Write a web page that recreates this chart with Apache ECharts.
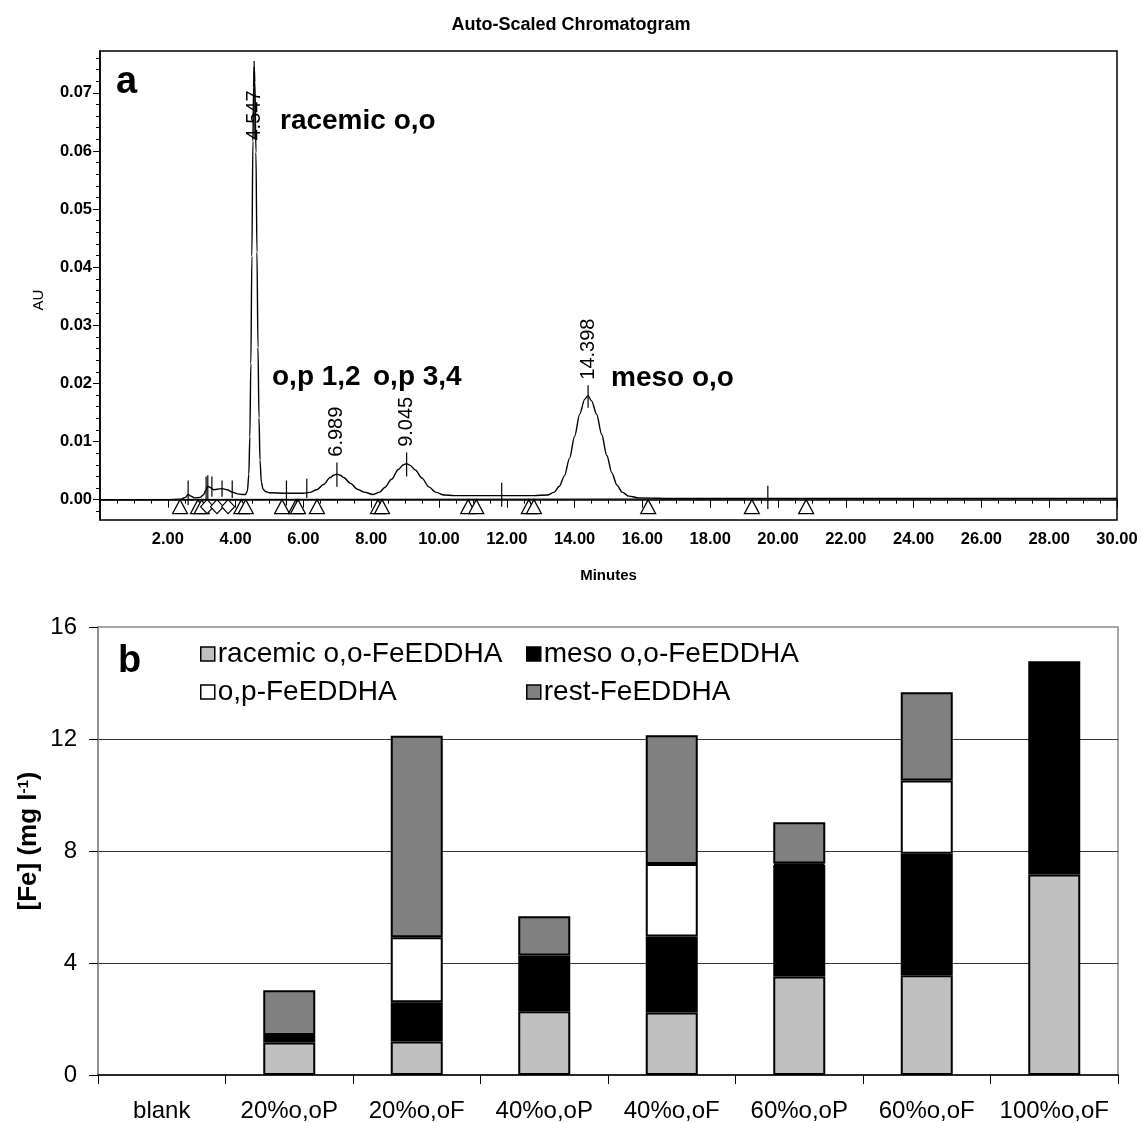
<!DOCTYPE html>
<html>
<head>
<meta charset="utf-8">
<script src="https://cdn.jsdelivr.net/npm/echarts@6/dist/echarts.min.js"></script>
<style>
  html, body { margin: 0; padding: 0; background: #fff; }
  #chart { width: 1141px; height: 1123px; }
</style>
</head>
<body>
<div id="chart"></div>
<script>
// ---- Panel a: HPLC chromatogram ----
// Trace: retention time (min) and absorbance (AU)
const retentionMin = [
  0.00, 1.00, 2.00, 2.40, 2.52, 2.60, 2.68, 2.80, 2.95, 3.05, 3.12, 3.18, 3.25, 3.35, 3.45,
  3.60, 3.75, 3.90, 4.05, 4.20, 4.29, 4.35, 4.39, 4.42, 4.45, 4.48, 4.51, 4.53, 4.547,
  4.57, 4.60, 4.63, 4.66, 4.69, 4.72, 4.76, 4.81, 4.88, 5.00, 5.50, 6.00, 6.19, 6.39,
  6.59, 6.79, 6.89, 6.989, 7.09, 7.19, 7.39, 7.59, 7.79, 8.05, 8.25, 8.40, 8.60, 8.80,
  8.95, 9.045, 9.15, 9.30, 9.50, 9.70, 9.90, 10.15, 10.45, 11.00, 12.00, 12.80, 13.20,
  13.40, 13.55, 13.70, 13.85, 14.00, 14.15, 14.30, 14.398, 14.50, 14.65, 14.80, 14.95,
  15.10, 15.25, 15.40, 15.60, 15.90, 17.00, 20.00, 25.00, 30.00
];
const absorbanceAU = [
  0.0000, 0.0000, 0.0000, 0.0001, 0.0004, 0.0009, 0.0006, 0.0003, 0.0004, 0.0008, 0.0016, 0.0023, 0.0021, 0.0017, 0.0018,
  0.0019, 0.0017, 0.0013, 0.0010, 0.0009, 0.0009, 0.0015, 0.0044, 0.0108, 0.0234, 0.0419, 0.0617, 0.0710, 0.0745,
  0.0719, 0.0598, 0.0426, 0.0262, 0.0141, 0.0068, 0.0030, 0.0018, 0.0014, 0.0012, 0.0011, 0.0011, 0.00125, 0.0017,
  0.0026, 0.0038, 0.0042, 0.0044, 0.0042, 0.0038, 0.0028, 0.0018, 0.0013, 0.0009, 0.0013, 0.0021, 0.0035, 0.0052,
  0.0060, 0.0062, 0.0059, 0.0051, 0.0037, 0.0022, 0.0013, 0.0008, 0.0007, 0.0007, 0.0007, 0.0007, 0.0008,
  0.0013, 0.0023, 0.0041, 0.0071, 0.0109, 0.0147, 0.0173, 0.0179, 0.0170, 0.0147, 0.0112, 0.0076,
  0.0046, 0.0025, 0.0013, 0.0006, 0.0003, 0.0002, 0.0002, 0.0002, 0.0002
];
// Integration baseline
const baselineMin = [0, 30];
const baselineAU = [0.0000, 0.0002];
// Labelled peak apexes and the height of each apex label
const peakApexMin = [4.547, 6.989, 9.045, 14.398];
const peakLabelAU = [0.0661, 0.0117, 0.0134, 0.0259];
// Peak start / apex / end tick marks: time, lower and upper end (AU)
const markMin    = [2.60, 3.13, 3.18, 3.30, 3.60, 3.90, 4.547, 5.50, 6.10, 6.989, 9.045, 11.85, 14.398, 19.70];
const markLowAU  = [-0.0009, -0.0005, -0.0003, 0.0005, 0.0005, 0.0003, 0.0620, -0.0010, 0.0003, 0.0022, 0.0040, -0.0012, 0.0158, -0.0016];
const markHighAU = [0.0033, 0.0040, 0.0042, 0.0040, 0.0033, 0.0033, 0.0755, 0.0033, 0.0036, 0.0064, 0.0081, 0.0029, 0.0197, 0.0024];
// Baseline event symbols
const triangleMin = [2.36, 2.89, 3.00, 4.17, 4.30, 5.37, 5.78, 5.84, 6.40, 8.20, 8.32, 10.86, 11.10, 12.65, 12.80, 16.17, 19.23, 20.83];
const diamondMin = [3.16, 3.45, 3.78];
const eventSymbolAU = -0.0012;
// Axis ticks
const auMajorTicks = [0, 0.01, 0.02, 0.03, 0.04, 0.05, 0.06, 0.07];
const auMinorTicks = [];
for (let k = -1; k <= 38; k++) { if (k % 5 !== 0) auMinorTicks.push(+(k * 0.002).toFixed(3)); }

// ---- Panel b: Fe in solution per isomer ----
const sampleNames = ['blank', '20%o,oP', '20%o,oF', '40%o,oP', '40%o,oF', '60%o,oP', '60%o,oF', '100%o,oF'];
const racemicFe    = [0, 1.16, 1.20, 2.28, 2.23, 3.52, 3.56, 7.16];
const mesoFe       = [0, 0.27, 1.40, 1.99, 2.72, 3.98, 4.34, 7.62];
const orthoParaFe  = [0, 0.00, 2.32, 0.00, 2.59, 0.05, 2.62, 0.00];
const restFe       = [0, 1.60, 7.20, 1.40, 4.59, 1.48, 3.15, 0.00];
const feTicks = [0, 4, 8, 12, 16];

const FONT = '"Liberation Sans", Arial, Helvetica, sans-serif';
const zeroAsGap = arr => arr.map(v => (v === 0 ? '-' : v));

const chart = echarts.init(document.getElementById('chart'), null, { renderer: 'canvas' });

const barSeries = (name, values, color) => ({
  name, type: 'bar', stack: 'fe', xAxisIndex: 1, yAxisIndex: 2,
  barWidth: 52, data: zeroAsGap(values),
  itemStyle: { color, borderColor: '#000', borderWidth: 2 },
  emphasis: { disabled: true }
});

const legendBase = {
  top: 640, padding: 0, orient: 'vertical', itemGap: 10, itemWidth: 14, itemHeight: 14, icon: 'rect',
  itemStyle: { borderColor: '#000', borderWidth: 1.5 },
  textStyle: { fontSize: 28, color: '#000', fontFamily: FONT, padding: [0, 0, 0, -2] },
  selectedMode: false
};

const text = (str, x, y, size, weight, extra) => ({
  type: 'text', x, y,
  style: Object.assign({ text: str, fontSize: size, fontWeight: weight, fontFamily: FONT, fill: '#000', textAlign: 'left', textVerticalAlign: 'middle' }, extra || {})
});

chart.setOption({
  animation: false,
  backgroundColor: '#fff',
  textStyle: { fontFamily: FONT },
  grid: [
    { left: 100, top: 51, width: 1017, height: 469, show: true, borderColor: '#000', borderWidth: 1.5, backgroundColor: 'transparent' },
    { left: 98, top: 627, width: 1020, height: 448, show: true, borderColor: '#8a8a8a', borderWidth: 1.5, backgroundColor: 'transparent' }
  ],
  legend: [
    Object.assign({}, legendBase, { left: 200, data: ['racemic o,o-FeEDDHA', 'o,p-FeEDDHA'] }),
    Object.assign({}, legendBase, { left: 526, data: ['meso o,o-FeEDDHA', 'rest-FeEDDHA'] })
  ],
  xAxis: [
    {
      gridIndex: 0, type: 'value', min: 0, max: 30, interval: 2,
      name: 'Minutes', nameLocation: 'middle', nameGap: 48,
      nameTextStyle: { fontSize: 15, fontWeight: 'bold', color: '#000' },
      axisLine: { lineStyle: { color: '#000', width: 1.5 } },
      axisTick: { show: true, length: 8, lineStyle: { color: '#000', width: 1 } },
      minorTick: { show: true, splitNumber: 4, length: 4, lineStyle: { color: '#000', width: 1 } },
      axisLabel: { formatter: v => v.toFixed(2), showMinLabel: false, fontSize: 16.5, fontWeight: 'bold', color: '#000', margin: 11 },
      splitLine: { show: false }, minorSplitLine: { show: false }
    },
    {
      gridIndex: 1, type: 'category', data: sampleNames, boundaryGap: true,
      axisLine: { lineStyle: { color: '#000', width: 1.5 } },
      axisTick: { show: true, length: 9, alignWithLabel: false, lineStyle: { color: '#000', width: 1 } },
      axisLabel: { interval: 0, fontSize: 24, color: '#000', margin: 24 },
      splitLine: { show: false }
    }
  ],
  yAxis: [
    {
      gridIndex: 0, type: 'value', min: -0.0035, max: 0.0772, position: 'left',
      axisLine: { show: true, lineStyle: { color: '#000', width: 1.5 } },
      axisTick: { show: true, length: 7, customValues: auMajorTicks, lineStyle: { color: '#000', width: 1 } },
      axisLabel: { customValues: auMajorTicks, formatter: v => v.toFixed(2), fontSize: 16.5, fontWeight: 'bold', color: '#000', margin: 8 },
      splitLine: { show: false }
    },
    {
      gridIndex: 0, type: 'value', min: -0.0035, max: 0.0772, position: 'left',
      axisLine: { show: false },
      axisTick: { show: true, length: 4, customValues: auMinorTicks, lineStyle: { color: '#000', width: 1 } },
      axisLabel: { show: false },
      splitLine: { show: false }
    },
    {
      gridIndex: 1, type: 'value', min: 0, max: 16, interval: 4,
      axisLine: { show: true, lineStyle: { color: '#8a8a8a', width: 1.5 } },
      axisTick: { show: true, length: 9, lineStyle: { color: '#000', width: 1 } },
      axisLabel: { customValues: feTicks, fontSize: 24, color: '#000', margin: 21 },
      splitLine: { show: true, showMinLine: false, showMaxLine: false, lineStyle: { color: '#333', width: 1 } }
    }
  ],
  series: [
    {
      name: 'trace', type: 'line', xAxisIndex: 0, yAxisIndex: 0,
      data: retentionMin.map((t, i) => [t, absorbanceAU[i]]),
      showSymbol: false, symbol: 'none', smooth: 0.3, smoothMonotone: 'x',
      lineStyle: { color: '#000', width: 1.4 }, z: 3, silent: true
    },
    {
      name: 'baseline', type: 'line', xAxisIndex: 0, yAxisIndex: 0,
      data: baselineMin.map((t, i) => [t, baselineAU[i]]),
      symbol: 'none', lineStyle: { color: '#000', width: 1.2 }, z: 2, silent: true
    },
    {
      name: 'marks', type: 'custom', xAxisIndex: 0, yAxisIndex: 0,
      data: markMin.map((t, i) => [t, markLowAU[i], markHighAU[i]]),
      encode: { x: 0, y: [1, 2] },
      renderItem: (params, api) => {
        const p1 = api.coord([api.value(0), api.value(1)]);
        const p2 = api.coord([api.value(0), api.value(2)]);
        return { type: 'line', shape: { x1: p1[0], y1: p1[1], x2: p2[0], y2: p2[1] }, style: { stroke: '#000', lineWidth: 1.2 } };
      },
      z: 4, silent: true
    },
    {
      name: 'triangles', type: 'scatter', xAxisIndex: 0, yAxisIndex: 0,
      data: triangleMin.map(t => [t, eventSymbolAU]),
      symbol: 'triangle', symbolSize: [15, 14],
      itemStyle: { color: '#fff', borderColor: '#000', borderWidth: 1.2, opacity: 1 }, z: 5, silent: true
    },
    {
      name: 'diamonds', type: 'scatter', xAxisIndex: 0, yAxisIndex: 0,
      data: diamondMin.map(t => [t, eventSymbolAU]),
      symbol: 'diamond', symbolSize: [13, 14],
      itemStyle: { color: '#fff', borderColor: '#000', borderWidth: 1.2, opacity: 1 }, z: 5, silent: true
    },
    {
      name: 'apex labels', type: 'scatter', xAxisIndex: 0, yAxisIndex: 0,
      data: peakApexMin.map((t, i) => [t, peakLabelAU[i]]),
      symbol: 'circle', symbolSize: 0,
      itemStyle: { opacity: 1 },
      label: {
        show: true, position: 'inside', rotate: 90, opacity: 1,
        formatter: p => p.value[0].toFixed(3),
        fontSize: 20, color: '#000', fontFamily: FONT, textBorderWidth: 0
      },
      z: 6, silent: true
    },
    barSeries('racemic o,o-FeEDDHA', racemicFe, '#c0c0c0'),
    barSeries('meso o,o-FeEDDHA', mesoFe, '#000000'),
    barSeries('o,p-FeEDDHA', orthoParaFe, '#ffffff'),
    barSeries('rest-FeEDDHA', restFe, '#808080')
  ],
  graphic: [
    text('Auto-Scaled Chromatogram', 571, 25, 18, 'bold', { textAlign: 'center' }),
    Object.assign(text('AU', 39, 300, 15, 'normal', { textAlign: 'center' }), { rotation: Math.PI / 2 }),
    text('a', 116, 83, 38, 'bold'),
    text('racemic o,o', 280, 121, 28, 'bold'),
    text('o,p 1,2', 272, 377, 28, 'bold'),
    text('o,p 3,4', 373, 377, 28, 'bold'),
    text('meso o,o', 611, 378, 28, 'bold'),
    text('b', 118, 662, 38, 'bold'),
    Object.assign(text('[Fe] (mg l{sup|-1})', 29, 841, 26, 'bold', {
      textAlign: 'center',
      rich: { sup: { fontSize: 15, fontWeight: 'bold', fontFamily: FONT, fill: '#000', verticalAlign: 'top', padding: [0, 0, 10, 0] } }
    }), { rotation: Math.PI / 2 })
  ]
});
</script>
</body>
</html>
